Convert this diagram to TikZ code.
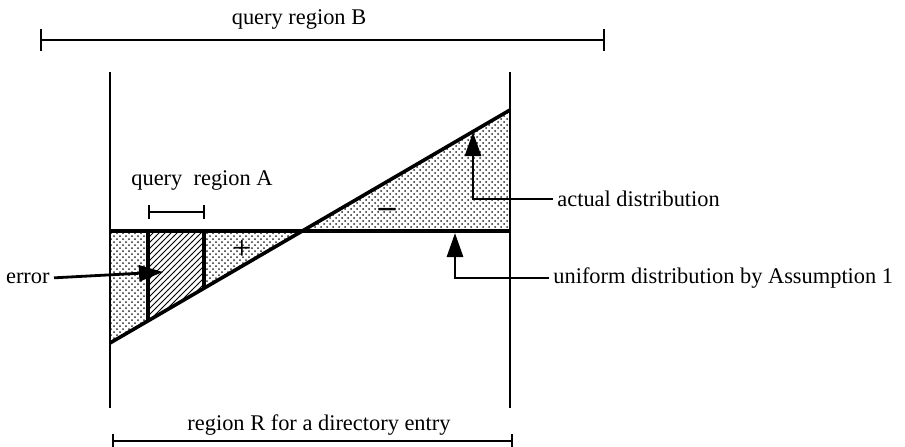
\documentclass[tikz,border=0pt]{standalone}
\usepackage{fontspec}
\setmainfont{Liberation Serif}
\usetikzlibrary{arrows.meta,patterns}

\begin{document}
\begin{tikzpicture}[x=0.5pt,y=-0.5pt,
  every node/.style={font=\fontsize{11.2}{13}\selectfont,inner sep=2pt},
  axis/.style={line width=1.3pt},
  edge/.style={line width=1.8pt},
  span/.style={line width=1.1pt,{Bar[width=#1]}-{Bar[width=#1]}},
  pointer/.style={line width=1.4pt,-{Triangle[length=12pt,width=8pt]}},
  stipple/.style={pattern=crosshatch dots,pattern color=black!85},
  hatch/.style={pattern=north east lines}]
  \useasboundingbox (0,0) rectangle (905,446);
  % frame of region R
  \coordinate (tl) at (110,72);  \coordinate (bl) at (110,408);
  \coordinate (tr) at (510,72);  \coordinate (br) at (510,408);
  % uniform and actual distribution
  \coordinate (ul) at (110,231); \coordinate (ur) at (510,231);
  \coordinate (al) at (110,343); \coordinate (ar) at (510,110);
  \coordinate (cross) at (302.3,231);
  % error strip under query region A
  \coordinate (ha) at (148,231);   \coordinate (hb) at (204,231);
  \coordinate (hc) at (204,288.2); \coordinate (hd) at (148,320.9);

  \fill[stipple] (ul) -- (cross) -- (al) -- cycle;
  \fill[stipple] (cross) -- (ur) -- (ar) -- cycle;
  \fill[white] (ha) -- (hb) -- (hc) -- (hd) -- cycle;
  \fill[hatch] (ha) -- (hb) -- (hc) -- (hd) -- cycle;

  \draw[edge] (ul) -- (ur);
  \draw[edge] (al) -- (ar);
  \draw[edge] (ha) -- (hd);
  \draw[edge] (hb) -- (hc);
  \draw[axis] (tl) -- (bl);
  \draw[axis] (tr) -- (br);

  % query regions and region R
  \coordinate (qbl) at (40,40);   \coordinate (qbr) at (605,40);
  \coordinate (qal) at (148,212); \coordinate (qar) at (205,212);
  \coordinate (rl) at (112,441);  \coordinate (rr) at (513,441);
  \draw[span=11pt] (qbl) -- (qbr);
  \draw[span=7pt] (qal) -- (qar);
  \draw[span=7pt] (rl) -- (rr);
  \node[anchor=base] (qB) at (299,24) {query region B};
  \node[anchor=base] (qA) at (202,185) {query\ \ region A};
  \node[anchor=base] (regR) at (319,430) {region R for a directory entry};

  \node (plus) at (242,250) {\fontsize{17}{17}\selectfont +};
  \node (minus) at (387,213) {\fontsize{17}{17}\selectfont\bfseries \textendash};

  % labels with pointers
  \node[anchor=base east] (error) at (54,283) {error};
  \coordinate (errtip) at (163,272);
  \draw[pointer] (error.east) -- (errtip);
  \node[anchor=west] (actual) at (553,199) {actual distribution};
  \coordinate (acttip) at (473,132);
  \draw[pointer] (actual.west) -| (acttip);
  \node[anchor=west] (uniform) at (549,278) {uniform distribution by Assumption 1};
  \coordinate (unitip) at (455,233);
  \draw[pointer] (uniform.west) -| (unitip);
\end{tikzpicture}
\end{document}
